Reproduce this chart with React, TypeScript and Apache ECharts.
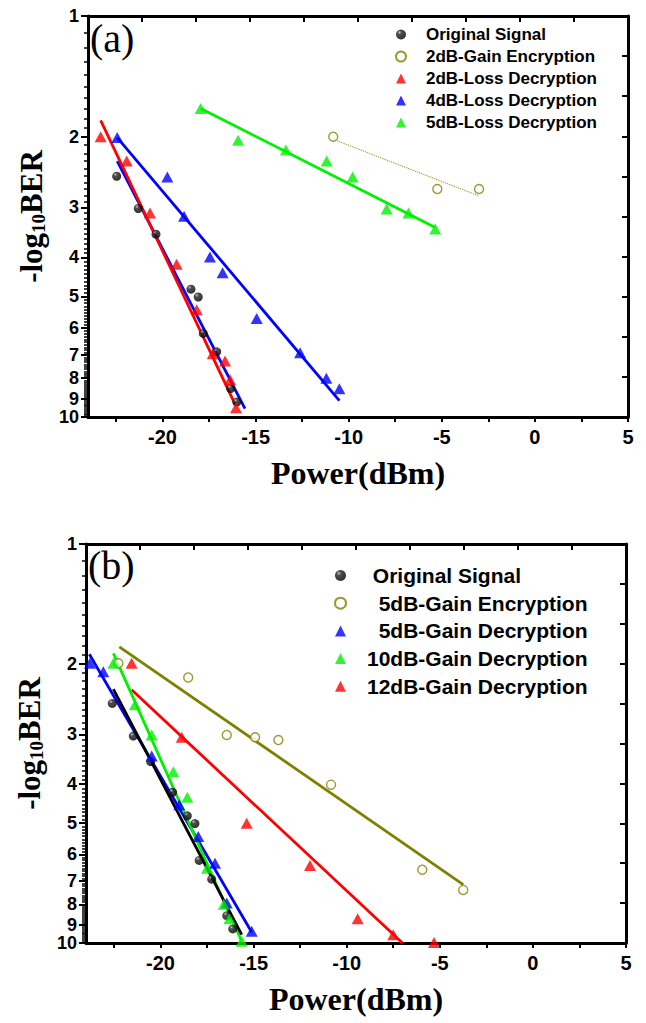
import { useEffect, useRef } from 'react';
import * as echarts from 'echarts';

// ---------- axes ----------
const xTickLabels = [-20, -15, -10, -5, 0, 5];
const xTickMarks = [-22.5, -20, -17.5, -15, -12.5, -10, -7.5, -5, -2.5, 0, 2.5, 5];
const yTickLabels = [1, 2, 3, 4, 5, 6, 7, 8, 9, 10];
const yMinorSteps = [0.1, 0.2, 0.3, 0.4, 0.5, 0.6, 0.7, 0.8, 0.9];

// ---------- panel (a) ----------
const aOriginal = [
  [-22.46, 2.51], [-21.3, 3.02], [-20.35, 3.5], [-18.47, 4.8], [-18.08, 5.02],
  [-17.81, 6.19], [-17.09, 6.88], [-16.34, 8.49], [-16.01, 9.18],
];
const aGain2Enc = [[-10.83, 2.0], [-5.24, 2.7], [-3.0, 2.7]];
const aLoss2Dec = [
  [-23.32, 2.0], [-21.92, 2.3], [-20.67, 3.1], [-19.24, 4.16], [-18.16, 5.4],
  [-17.3, 6.95], [-16.64, 7.25], [-16.37, 8.07], [-16.05, 9.48],
];
const aLoss4Dec = [
  [-22.43, 2.01], [-19.74, 2.52], [-18.84, 3.16], [-17.45, 3.99], [-16.77, 4.37],
  [-14.94, 5.68], [-12.61, 6.91], [-11.2, 8.0], [-10.5, 8.5],
];
const aLoss5Dec = [
  [-17.95, 1.7], [-15.94, 2.04], [-13.37, 2.16], [-11.18, 2.3], [-9.79, 2.52],
  [-7.96, 3.03], [-6.79, 3.1], [-5.35, 3.4],
];
const aFitOriginal = [[-22.43, 2.3], [-15.57, 9.53]];
const aFitLoss2 = [[-23.32, 1.82], [-16.1, 9.3]];
const aFitLoss4 = [[-22.43, 2.01], [-10.5, 9.1]];
const aFitLoss5 = [[-17.95, 1.7], [-5.35, 3.37]];
const aFitGain2 = [[-10.83, 2.03], [-3.0, 2.81]];

// ---------- panel (b) ----------
const bOriginal = [
  [-22.59, 2.51], [-21.46, 3.03], [-20.53, 3.51], [-19.35, 4.19], [-18.56, 4.8],
  [-18.15, 5.02], [-17.92, 6.21], [-17.25, 6.92], [-16.44, 8.54], [-16.12, 9.22],
];
const bGain5Enc = [
  [-22.26, 1.99], [-18.51, 2.16], [-16.44, 3.01], [-14.92, 3.05], [-13.67, 3.1],
  [-10.84, 4.01], [-5.94, 6.55], [-3.74, 7.36],
];
const bGain5Dec = [
  [-23.79, 1.99], [-23.07, 2.09], [-20.47, 3.4], [-18.99, 4.5], [-17.97, 5.41],
  [-17.07, 6.31], [-16.44, 7.94], [-15.1, 9.35],
];
const bGain10Dec = [
  [-22.53, 1.99], [-21.37, 2.53], [-20.47, 3.01], [-19.31, 3.72], [-18.56, 4.31],
  [-17.5, 6.5], [-16.6, 8.0], [-16.3, 8.7], [-15.64, 9.9],
];
const bGain12Dec = [
  [-21.55, 1.99], [-18.86, 3.05], [-15.37, 5.01], [-11.97, 6.39], [-9.41, 8.69],
  [-7.5, 9.53], [-5.31, 9.97],
];
const bFitOriginal = [[-22.53, 2.31], [-15.64, 9.53]];
const bFitGain5Enc = [[-22.21, 1.81], [-3.74, 7.14]];
const bFitGain5Dec = [[-23.82, 1.89], [-15.1, 9.4]];
const bFitGain10Dec = [[-22.53, 1.88], [-15.64, 9.9]];
const bFitGain12Dec = [[-21.55, 2.32], [-7.0, 10]];

const namesA = ['Original Signal', '2dB-Gain Encryption', '2dB-Loss Decryption', '4dB-Loss Decryption', '5dB-Loss Decryption'];
const namesB = ['\u00a0Original Signal', '\u00a0\u00a05dB-Gain Encryption', '\u00a0\u00a05dB-Gain Decryption', '10dB-Gain Decryption', '12dB-Gain Decryption'];

const RED = '#ff0000';
const BLUE = '#0000ff';
const GREEN = '#00f000';
const OLIVE = '#808000';
const SANS = 'Liberation Sans';
const SERIF = 'Liberation Serif';

const tr = (pts: number[][]) => pts.map((p) => [p[0], Math.log10(p[1])]);

const sphere = () =>
  new echarts.graphic.RadialGradient(0.35, 0.3, 0.7, [
    { offset: 0, color: '#b0b0b0' },
    { offset: 0.3, color: '#202020' },
    { offset: 1, color: '#000000' },
  ]);

export default function App() {
  const ref = useRef<HTMLDivElement>(null);

  useEffect(() => {
    if (!ref.current) return;
    const chart = echarts.init(ref.current, null, { renderer: 'svg' });

    const minorVals: number[] = [];
    for (let k = 1; k < 10; k++) for (const s of yMinorSteps) minorVals.push(Math.log10(k + s));
    const majorVals = yTickLabels.map((v) => Math.log10(v));
    // labels split over two overlapping axes so that the close 9 / 10 labels both show
    const labelValsMain = yTickLabels.filter((v) => v !== 9).map((v) => Math.log10(v));
    const labelValsAlt = [Math.log10(9)];

    const frameLine = { onZero: false, lineStyle: { color: '#000', width: 3 } };
    const yLabelStyle = {
      margin: 9, color: '#000', fontFamily: SANS, fontWeight: 'bold', fontSize: 18, lineHeight: 17,
      showMinLabel: true, showMaxLabel: true, hideOverlap: false,
      formatter: (v: number) => String(Math.round(Math.pow(10, v))),
    };

    const xAxes = (g: number) => [
      {
        type: 'value', gridIndex: g, position: 'bottom', min: -24, max: 5,
        splitLine: { show: false },
        axisLine: frameLine,
        axisTick: { customValues: xTickMarks, length: 5, lineStyle: { color: '#000', width: 2 } },
        axisLabel: {
          customValues: xTickLabels, margin: 10, color: '#000',
          fontFamily: SANS, fontWeight: 'bold', fontSize: 20,
          showMinLabel: true, showMaxLabel: true, hideOverlap: false,
        },
        name: 'Power(dBm)', nameLocation: 'middle', nameGap: 40,
        nameTextStyle: { fontFamily: SERIF, fontWeight: 'bold', fontSize: 32, color: '#000' },
      },
      {
        type: 'value', gridIndex: g, position: 'top', min: 0, max: 10, interval: 1,
        splitLine: { show: false },
        axisLine: frameLine,
        axisTick: { inside: true, length: 6, lineStyle: { color: '#000', width: 2 } },
        axisLabel: { show: false },
      },
    ];

    const yAxes = (g: number) => [
      {
        type: 'value', gridIndex: g, position: 'left', min: 0, max: 1, inverse: true,
        splitLine: { show: false },
        axisLine: frameLine,
        axisTick: { customValues: majorVals, length: 7, lineStyle: { color: '#000', width: 2 } },
        axisLabel: { ...yLabelStyle, customValues: labelValsMain },
        name: '{m|-log}{s|10}{m|BER}', nameLocation: 'middle', nameGap: 40, nameRotate: 90,
        nameTextStyle: {
          rich: {
            m: { fontFamily: SERIF, fontWeight: 'bold', fontSize: 31, lineHeight: 34, color: '#000' },
            s: { fontFamily: SERIF, fontWeight: 'bold', fontSize: 19, lineHeight: 18, verticalAlign: 'bottom', color: '#000' },
          },
        },
      },
      {
        type: 'value', gridIndex: g, position: 'left', min: 0, max: 1, inverse: true,
        splitLine: { show: false },
        axisLine: { show: false, onZero: false },
        axisTick: { customValues: minorVals, length: 4, lineStyle: { color: '#000', width: 1.5 } },
        axisLabel: { ...yLabelStyle, customValues: labelValsAlt },
      },
      {
        type: 'value', gridIndex: g, position: 'right', min: 0, max: 10, interval: 1,
        splitLine: { show: false },
        axisLine: frameLine,
        axisTick: { inside: true, length: 6, lineStyle: { color: '#000', width: 2 } },
        axisLabel: { show: false },
      },
    ];

    const scatter = (name: string, data: number[][], g: number, kind: string, color: any) => {
      const base: any = {
        type: 'scatter', name, xAxisIndex: g * 2, yAxisIndex: g * 3, data: tr(data), z: 5,
      };
      if (kind === 'sphere') {
        base.symbol = 'circle'; base.symbolSize = 9; base.itemStyle = { color: sphere() };
      } else if (kind === 'open') {
        base.symbol = 'circle'; base.symbolSize = 9;
        base.itemStyle = { color: '#ffffff', borderColor: OLIVE, borderWidth: 1.4 };
      } else {
        base.symbol = 'triangle'; base.symbolSize = [12, 11]; base.itemStyle = { color };
      }
      return base;
    };
    const fit = (data: number[][], g: number, color: string, width = 2.8, type: any = 'solid') => ({
      type: 'line', xAxisIndex: g * 2, yAxisIndex: g * 3, data: tr(data), symbol: 'none',
      lineStyle: { color, width, type }, silent: true, z: 3,
    });

    const legendText = (size: number, pad: number) => ({
      fontFamily: SANS, fontWeight: 'bold', fontSize: size, lineHeight: size, color: '#000',
      padding: [0, 0, 0, pad],
    });

    chart.setOption({
      animation: false,
      backgroundColor: '#ffffff',
      grid: [
        { left: 88, top: 16, width: 540, height: 401 },
        { left: 86, top: 544, width: 540, height: 399 },
      ],
      xAxis: [...xAxes(0), ...xAxes(1)],
      yAxis: [...yAxes(0), ...yAxes(1)],
      legend: [
        {
          orient: 'vertical', left: 395, top: 26, padding: 0, itemWidth: 10, itemHeight: 10,
          itemGap: 5, selectedMode: false, data: namesA, textStyle: legendText(17, 15),
        },
        {
          orient: 'vertical', left: 334, top: 565, padding: 0, itemWidth: 11, itemHeight: 11,
          itemGap: 6.7, selectedMode: false, data: namesB, textStyle: legendText(21, 16),
        },
      ],
      graphic: [
        { type: 'text', left: 90, top: 18, style: { text: '(a)', font: `normal 40px "${SERIF}"`, fill: '#000' } },
        { type: 'text', left: 88, top: 545, style: { text: '(b)', font: `normal 40px "${SERIF}"`, fill: '#000' } },
      ],
      series: [
        fit(aFitOriginal, 0, BLUE),
        fit(aFitLoss2, 0, RED),
        fit(aFitLoss4, 0, BLUE),
        fit(aFitLoss5, 0, GREEN),
        fit(aFitGain2, 0, OLIVE, 1, 'dotted'),
        scatter(namesA[0], aOriginal, 0, 'sphere', null),
        scatter(namesA[1], aGain2Enc, 0, 'open', OLIVE),
        scatter(namesA[2], aLoss2Dec, 0, 'tri', RED),
        scatter(namesA[3], aLoss4Dec, 0, 'tri', BLUE),
        scatter(namesA[4], aLoss5Dec, 0, 'tri', GREEN),

        fit(bFitGain5Enc, 1, OLIVE),
        fit(bFitGain12Dec, 1, RED),
        fit(bFitGain5Dec, 1, BLUE),
        fit(bFitGain10Dec, 1, GREEN),
        fit(bFitOriginal, 1, '#000'),
        scatter(namesB[0], bOriginal, 1, 'sphere', null),
        scatter(namesB[1], bGain5Enc, 1, 'open', OLIVE),
        scatter(namesB[2], bGain5Dec, 1, 'tri', BLUE),
        scatter(namesB[3], bGain10Dec, 1, 'tri', GREEN),
        scatter(namesB[4], bGain12Dec, 1, 'tri', RED),
      ],
    });

    return () => chart.dispose();
  }, []);

  return (
    <div
      ref={ref}
      style={{ position: 'absolute', left: 0, top: 0, width: 646, height: 1023, background: '#fff' }}
    />
  );
}
